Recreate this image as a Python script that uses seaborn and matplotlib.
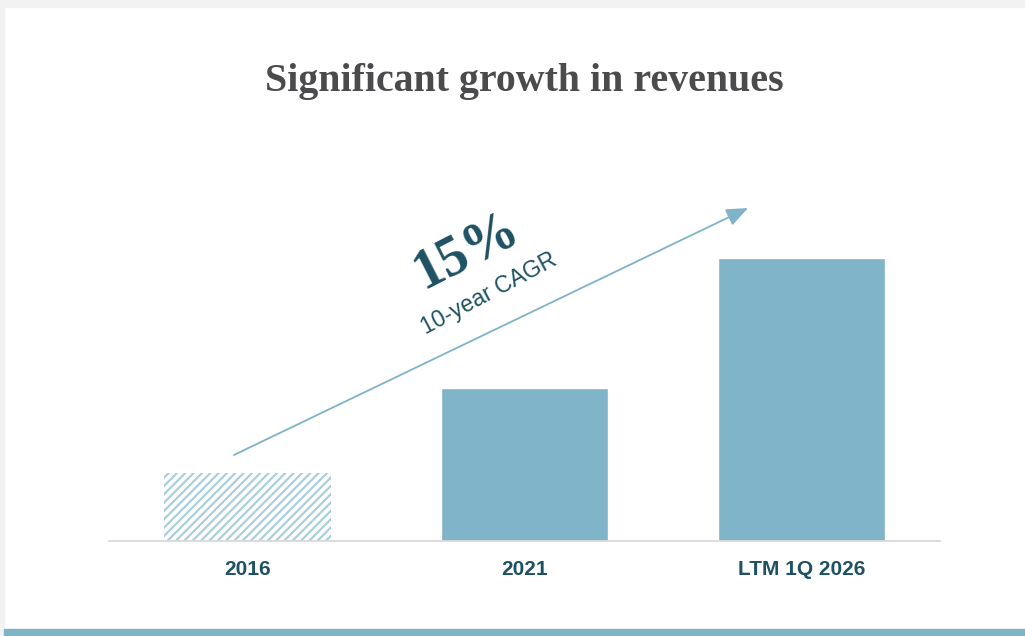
import matplotlib
matplotlib.use("Agg")
import matplotlib.pyplot as plt
import seaborn as sns
import pandas as pd
from matplotlib.patches import Rectangle

categories = ["2016", "2021", "LTM 1Q 2026"]
revenues = [68, 153, 283]
title = "Significant growth in revenues"
cagr_value = "15%"
cagr_label = "10-year CAGR"

BAR = "#80b4c8"
HATCH = "#a9cfdc"
DARK = "#1d5163"
TITLE_C = "#4b4b4d"

sns.set_theme(style="white")
plt.rcParams["hatch.linewidth"] = 1.6
plt.rcParams["font.family"] = ["Liberation Sans", "DejaVu Sans"]

fig = plt.figure(figsize=(10.25, 6.36), dpi=100)
fig.patch.set_facecolor("white")
W, H = 1025, 636

# page decorations
fig.patches.append(Rectangle((0, 0), 4 / W, 1, transform=fig.transFigure, color="#f2f2f2", zorder=0))
fig.patches.append(Rectangle((0, 1 - 7 / H), 1, 7 / H, transform=fig.transFigure, color="#f2f2f2", zorder=0))
fig.patches.append(Rectangle((4 / W, 0), 1, 7 / H, transform=fig.transFigure, color="#7fb3c6", zorder=0))

ax = fig.add_axes([109 / W, (H - 541) / H, (940 - 109) / W, 400 / H])
df = pd.DataFrame({"period": categories, "revenue": revenues})
sns.barplot(data=df, x="period", y="revenue", color=BAR, saturation=1, width=0.603, ax=ax)

# hatched first bar
p0 = ax.patches[0]
p0.set_facecolor("white")
p0.set_edgecolor(HATCH)
p0.set_hatch("////")
p0.set_linewidth(0)

ax.set_xlim(-0.5, 2.5)
ax.set_ylim(0, 400)
ax.set_xlabel("")
ax.set_ylabel("")
ax.set_yticks([])
for s in ["top", "left", "right"]:
    ax.spines[s].set_visible(False)
ax.spines["bottom"].set_color("#d9d9d9")
ax.spines["bottom"].set_linewidth(1.3)
ax.tick_params(axis="x", length=0, pad=14)
for lbl in ax.get_xticklabels():
    lbl.set_fontsize(15)
    lbl.set_fontweight("bold")
    lbl.set_color(DARK)
ax.patch.set_alpha(0)

# CAGR arrow
ax.annotate("", xy=(1.807, 333), xytext=(-0.049, 86),
            arrowprops=dict(arrowstyle="-|>,head_length=1.1,head_width=0.45",
                            color="#7fb3c8", lw=1.3, shrinkA=0, shrinkB=0))

def px_to_data(px, py):
    return ((px - 247.5) / 277.0, 541 - py)

x1, y1 = px_to_data(466, 251)
ax.text(x1, y1, cagr_value, rotation=27, rotation_mode="anchor", ha="center", va="center",
        fontsize=40, fontweight="bold", color=DARK, family="Liberation Serif")
x2, y2 = px_to_data(489, 294)
ax.text(x2, y2, cagr_label, rotation=28, rotation_mode="anchor", ha="center", va="center",
        fontsize=16.5, color=DARK)

fig.text(524 / W, 1 - 81 / H, title, ha="center", va="center", fontsize=28.7,
         fontweight="bold", color=TITLE_C, family="Liberation Serif")

fig.savefig("out.png", dpi=100)
